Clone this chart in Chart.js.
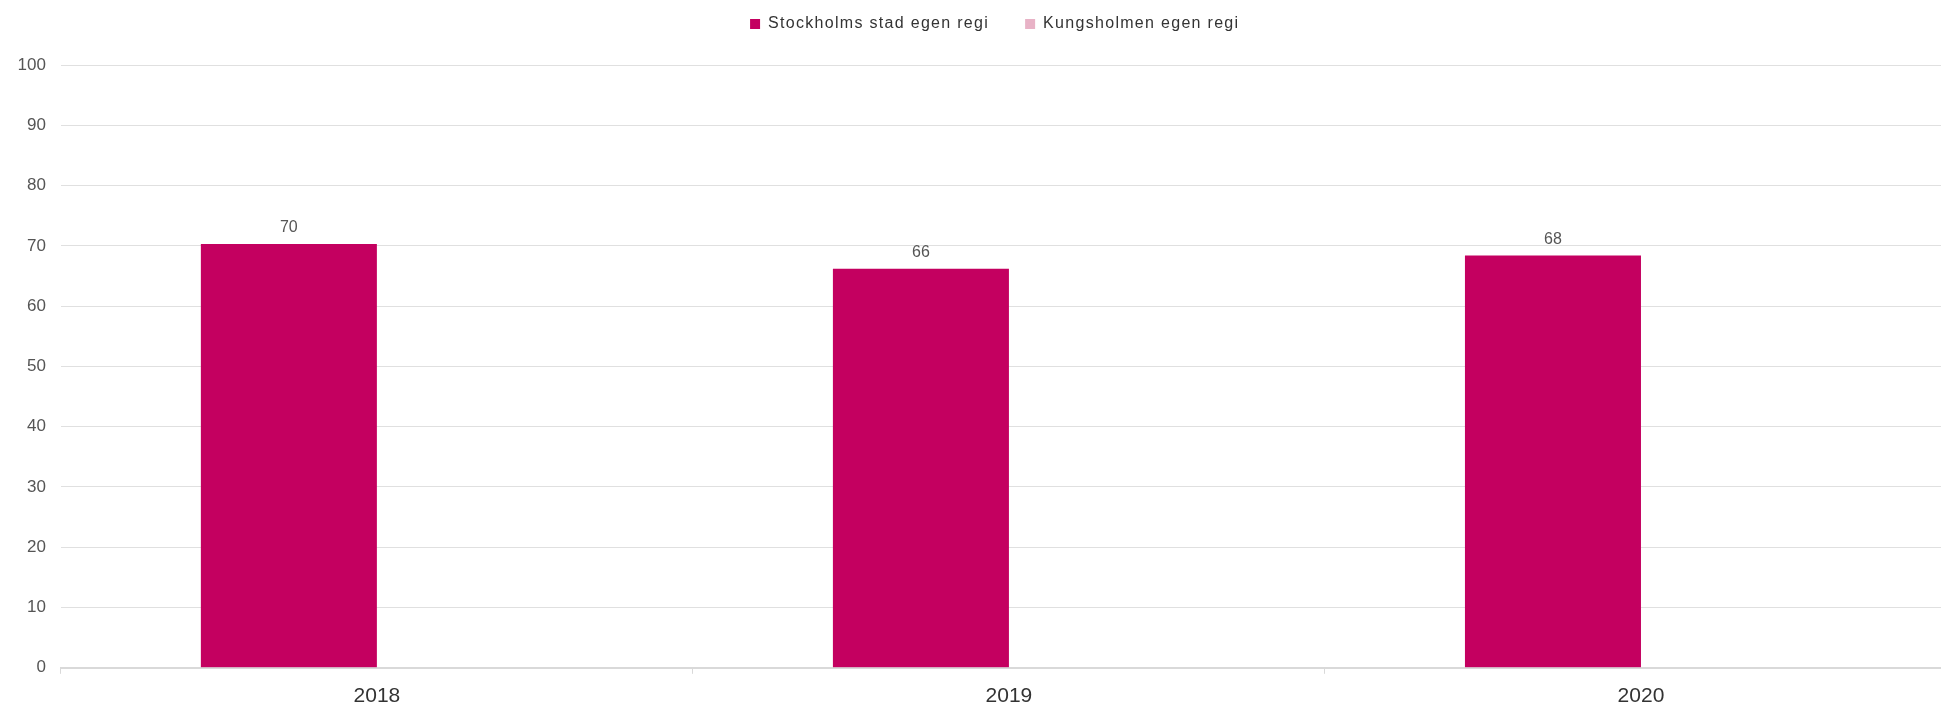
<!DOCTYPE html>
<html>
<head>
<meta charset="utf-8">
<script src="https://cdn.jsdelivr.net/npm/chart.js@4"></script>
<style>
  html, body { margin: 0; padding: 0; background: #fff; overflow: hidden; }
  #wrap { width: 1941px; height: 707px; overflow: hidden; }
</style>
</head>
<body>
<div id="wrap"><canvas id="chart" width="1957" height="707"></canvas></div>
<script>
const years = ["2018", "2019", "2020"];
const stockholmValues = [70.3, 66.2, 68.4];
const kungsholmenValues = [null, null, null];
const yTicks = [0, 10, 20, 30, 40, 50, 60, 70, 80, 90, 100];

const FONT = "'Liberation Sans', Arial, Helvetica, sans-serif";

// etiketter ovanför staplarna
const barLabels = {
  id: "barLabels",
  afterDatasetsDraw(chart) {
    const ctx = chart.ctx;
    ctx.save();
    ctx.font = "16px " + FONT;
    ctx.fillStyle = "#555";
    ctx.textAlign = "center";
    ctx.textBaseline = "middle";
    chart.data.datasets.forEach((ds, i) => {
      const meta = chart.getDatasetMeta(i);
      meta.data.forEach((bar, j) => {
        const v = ds.data[j];
        if (v === null || v === undefined) return;
        ctx.fillText(Math.round(v), bar.x, bar.y - 16);
      });
    });
    ctx.restore();
  }
};

// bredare bokstäver i legenden, lite åt höger och mer avstånd under
const legendTweak = {
  id: "legendTweak",
  afterInit(chart) {
    const lg = chart.legend;
    const fit = lg.fit;
    const draw = lg.draw;
    lg.fit = function () {
      this.ctx.letterSpacing = "1.3px";
      fit.call(this);
      this.ctx.letterSpacing = "0px";
      this.height += 23;
    };
    lg.draw = function () {
      const ctx = this.ctx;
      ctx.save();
      ctx.translate(7, 0);
      ctx.letterSpacing = "1.3px";
      draw.call(this);
      ctx.letterSpacing = "0px";
      ctx.restore();
    };
  }
};

new Chart(document.getElementById("chart").getContext("2d"), {
  type: "bar",
  data: {
    labels: years,
    datasets: [
      {
        label: "Stockholms stad egen regi",
        data: stockholmValues,
        backgroundColor: "#c40060",
        barPercentage: 1,
        categoryPercentage: 0.557
      },
      {
        label: "Kungsholmen egen regi",
        data: kungsholmenValues,
        backgroundColor: "#e8b2c6",
        barPercentage: 1,
        categoryPercentage: 0.557
      }
    ]
  },
  options: {
    responsive: false,
    animation: false,
    layout: { padding: { left: 18.5, right: 0, top: -20, bottom: -12 } },
    plugins: {
      legend: {
        position: "top",
        labels: {
          font: { family: FONT, size: 16 },
          color: "#333",
          boxWidth: 10,
          boxHeight: 10,
          padding: 36
        }
      },
      tooltip: { enabled: false }
    },
    scales: {
      x: {
        grid: {
          drawOnChartArea: false,
          drawTicks: true,
          tickLength: 6,
          color: "#d9d9d9"
        },
        border: { color: "#d9d9d9", width: 2 },
        ticks: {
          font: { family: FONT, size: 21 },
          color: "#333",
          padding: 10
        }
      },
      y: {
        min: 0,
        max: 100,
        afterBuildTicks: axis => { axis.ticks = yTicks.map(v => ({ value: v })); },
        afterFit: axis => { axis.width -= 16; },
        grid: { color: "#e0e0e0", drawTicks: false },
        border: { display: false },
        ticks: {
          font: { family: FONT, size: 17 },
          color: "#555",
          padding: 15
        }
      }
    }
  },
  plugins: [barLabels, legendTweak]
});
</script>
</body>
</html>
